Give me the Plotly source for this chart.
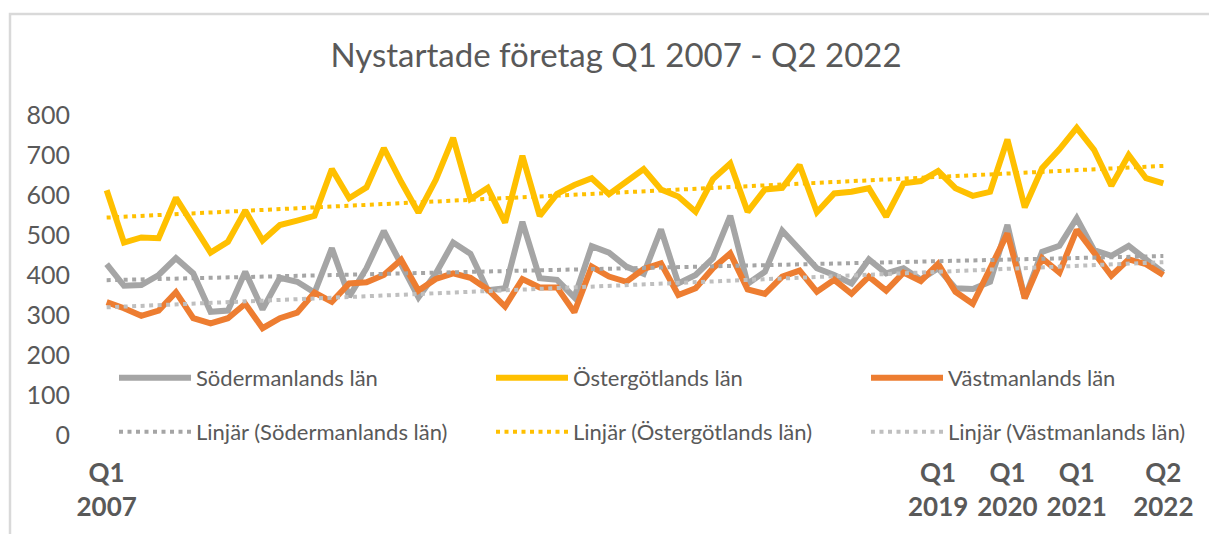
import numpy as np
import plotly.graph_objects as go

# Kvartal Q1 2007 - Q2 2022
kvartal = [f"Q{q} {y}" for y in range(2007, 2023) for q in range(1, 5)][:62]

sodermanland = [427, 373, 375, 400, 442, 404, 308, 311, 408, 314, 393, 383, 356, 467, 346, 417,
                510, 427, 344, 404, 481, 453, 362, 367, 533, 392, 388, 344, 472, 456, 421, 403,
                514, 379, 400, 442, 548, 378, 408, 511, 462, 417, 400, 379, 439, 404, 417, 389,
                417, 367, 365, 383, 525, 342, 458, 473, 542, 462, 448, 473, 439, 406]

ostergotland = [612, 481, 494, 492, 593, 525, 456, 483, 561, 486, 525, 536, 548, 665, 592, 619,
                717, 633, 556, 638, 743, 590, 618, 531, 698, 548, 603, 625, 642, 602, 633, 665,
                614, 596, 558, 640, 679, 558, 614, 618, 675, 557, 604, 608, 617, 546, 629, 635,
                660, 617, 598, 608, 739, 569, 667, 714, 768, 713, 623, 700, 642, 629]

vastmanland = [332, 317, 298, 311, 357, 292, 279, 292, 328, 267, 292, 306, 356, 333, 379, 382,
               400, 438, 361, 390, 404, 393, 364, 321, 390, 369, 369, 307, 421, 396, 383, 415,
               429, 350, 367, 417, 454, 364, 353, 396, 411, 358, 388, 353, 396, 361, 406, 385,
               428, 358, 328, 417, 504, 342, 442, 406, 513, 456, 398, 439, 427, 400]

tick_index = [0, 48, 52, 56, 61]
tick_labels = ["Q1<br>2007", "Q1<br>2019", "Q1<br>2020", "Q1<br>2021", "Q2<br>2022"]

serier = [
    ("Södermanlands län", sodermanland, "#A5A5A5", "#A5A5A5"),
    ("Östergötlands län", ostergotland, "#FFC000", "#FFC000"),
    ("Västmanlands län", vastmanland, "#ED7D31", "#BFBFBF"),
]

# plotytan i pixlar
L, R, T, B = 98, 37, 115, 99
W, H = 1209 - L - R, 534 - T - B

fig = go.Figure()
idx = np.arange(len(kvartal))

for n, (namn, varden, farg, _) in enumerate(serier):
    fig.add_trace(go.Scatter(
        x=kvartal, y=varden, mode="lines", name=namn,
        line=dict(color=farg, width=6), legend="legend" if n == 0 else f"legend{n + 1}",
    ))

# Linjära trendlinjer (minsta kvadrat, som i Excel)
for n, (namn, varden, _, tfarg) in enumerate(serier):
    k, m = np.polyfit(idx, varden, 1)
    fig.add_trace(go.Scatter(
        x=kvartal, y=k * idx + m, mode="lines", name=f"Linjär ({namn})",
        line=dict(color=tfarg, width=4, dash="4px,4.5px"), legend=f"legend{n + 4}",
    ))

grey = "#595959"


def legend_at(px_x, px_y):
    return dict(
        x=(px_x - L) / W, y=(T + H - px_y) / H, xanchor="left", yanchor="middle",
        orientation="h", bgcolor="rgba(0,0,0,0)", itemwidth=72,
        font=dict(family="Lato", size=22, color=grey),
    )


kol_x = [114, 491, 866]
rad_y = [378, 432]

fig.update_layout(
    width=1209, height=534,
    margin=dict(l=L, r=R, t=T, b=B, autoexpand=False),
    paper_bgcolor="white", plot_bgcolor="white",
    title=dict(text="Nystartade företag Q1 2007 - Q2 2022", x=616 / 1209, xref="container",
               xanchor="center", y=1 - 55 / 534, yanchor="middle",
               font=dict(family="Lato", size=33, color=grey)),
    legend=legend_at(kol_x[0], rad_y[0]),
    legend2=legend_at(kol_x[1], rad_y[0]),
    legend3=legend_at(kol_x[2], rad_y[0]),
    legend4=legend_at(kol_x[0], rad_y[1]),
    legend5=legend_at(kol_x[1], rad_y[1]),
    legend6=legend_at(kol_x[2], rad_y[1]),
    xaxis=dict(type="category", range=[-0.5, 61.5], showgrid=False, showline=False,
               zeroline=False, ticks="", tickmode="array", automargin=False,
               tickvals=[kvartal[i] for i in tick_index], ticktext=tick_labels,
               tickangle=0, ticklabelstandoff=20,
               tickfont=dict(family="Lato", size=26, color=grey, weight="bold")),
    yaxis=dict(range=[0, 800], dtick=100, showgrid=False, showline=False, zeroline=False,
               ticks="", ticklabelstandoff=27, automargin=False,
               tickfont=dict(family="Lato", size=25, color=grey)),
    showlegend=True,
)

# ram runt diagrammet (beskuren till höger och nedtill)
fig.add_shape(type="rect", xref="paper", yref="paper",
              x0=(10 - L) / W, x1=(1220 - L) / W,
              y0=(T + H - 545) / H, y1=(T + H - 14) / H,
              line=dict(color="#D9D9D9", width=2.5), layer="below")

# ta bort sidans standardmarginal så att diagrammet hamnar i hörnet
fig.write_html("out.html", config={"displayModeBar": False},
               post_script="document.body.style.margin = '0';")
